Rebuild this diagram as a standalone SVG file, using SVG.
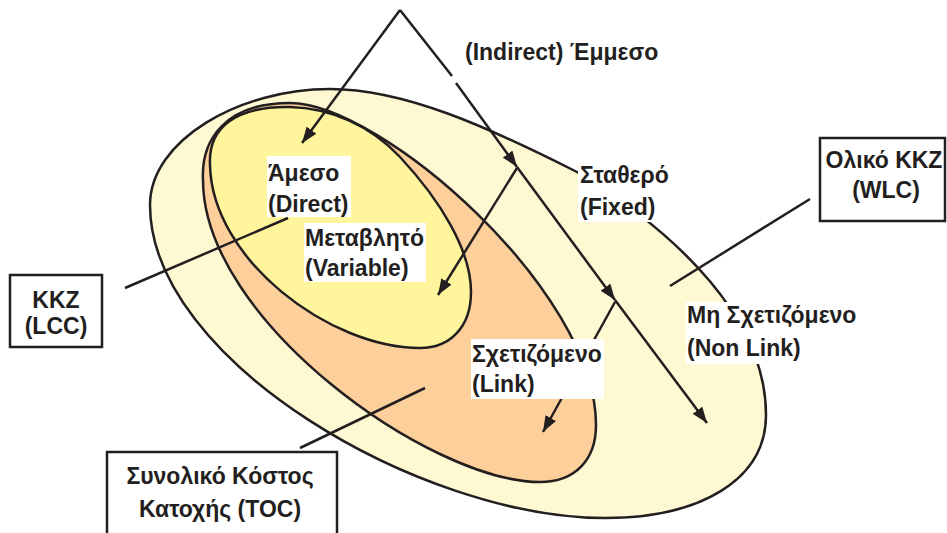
<svg xmlns="http://www.w3.org/2000/svg" width="947" height="533" viewBox="0 0 947 533">
<defs>
<style>
.shape{stroke:#231F20;stroke-width:2.5}
.ln{stroke:#231F20;stroke-width:2.5;fill:none}
.arr{stroke:#231F20;stroke-width:2.5;fill:none;marker-end:url(#ah)}
.bg{fill:#FFFFFF}
.box{fill:#FFFFFF;stroke:#231F20;stroke-width:2.5}
text{font-family:"Liberation Sans",Arial,sans-serif;font-weight:bold;font-size:23px;fill:#231F20}
.c{text-anchor:middle}
</style>
<marker id="ah" viewBox="0 0 16 12" refX="16" refY="6" markerWidth="16" markerHeight="12" markerUnits="userSpaceOnUse" orient="auto">
<path d="M0,0 L16,6 L0,12 z" fill="#231F20"/>
</marker>
</defs>
<rect width="947" height="533" fill="#FFFFFF"/>
<g id="outer">
<path class="shape" fill="#FFF9D3" d="M150,205 C150,140 240,89 330,89 C405,89 490,128 577,172 C680,235 766,320 766,415 C766,480 700,518 605,518 C420,518 150,360 150,205 Z"/>
</g>
<g id="link">
<path class="shape" fill="#FDD09B" d="M203,180 C201,140 225,103 290,103 C380,103 596,290 596,425 C596,460 575,482 540,482 C430,482 203,320 203,180 Z"/>
</g>
<g id="direct">
<path class="shape" fill="#FFF59C" d="M210,165 C208,128 235,106 290,107 C330,108 370,125 400,157 C440,200 471,250 471,292 C471,327 450,348 420,348 C330,348 212,260 210,165 Z"/>
</g>
<g id="connectors">
<line class="arr" x1="400" y1="10" x2="302" y2="143"/>
<line class="ln" x1="400" y1="10" x2="452" y2="76"/>
<line class="arr" x1="456" y1="83" x2="517" y2="167"/>
<line class="arr" x1="517" y1="167" x2="615" y2="300"/>
<line class="arr" x1="615" y1="300" x2="707" y2="423"/>
<line class="arr" x1="517" y1="168" x2="438" y2="295"/>
<line class="arr" x1="615" y1="302" x2="543" y2="432"/>
<line class="ln" x1="125" y1="288" x2="288" y2="218"/>
<line class="ln" x1="810" y1="199" x2="670" y2="286"/>
<line class="ln" x1="300" y1="448" x2="425" y2="388"/>
</g>
<g id="label-direct">
<rect class="bg" x="267" y="156" width="84" height="61"/>
<text x="268" y="181">Άμεσο</text>
<text x="268" y="212">(Direct)</text>
</g>
<g id="label-variable">
<rect class="bg" x="304" y="223" width="122" height="59"/>
<text x="305" y="246">Μεταβλητό</text>
<text x="305" y="276">(Variable)</text>
</g>
<g id="label-indirect">
<text x="465" y="60">(Indirect) Έμμεσο</text>
</g>
<g id="label-fixed">
<rect class="bg" x="578" y="160" width="92" height="62"/>
<text x="580" y="183">Σταθερό</text>
<text x="580" y="215">(Fixed)</text>
</g>
<g id="label-nonlink">
<rect class="bg" x="686" y="302" width="172" height="62"/>
<text x="687" y="323">Μη Σχετιζόμενο</text>
<text x="687" y="356">(Non Link)</text>
</g>
<g id="label-link">
<rect class="bg" x="471" y="339" width="133" height="60"/>
<text x="472" y="362">Σχετιζόμενο</text>
<text x="472" y="392">(Link)</text>
</g>
<g id="box-lcc">
<rect class="box" x="10" y="275" width="92" height="72"/>
<text class="c" x="56" y="308">KKZ</text>
<text class="c" x="56" y="334">(LCC)</text>
</g>
<g id="box-wlc">
<rect class="box" x="820" y="138" width="125" height="83"/>
<text class="c" x="884" y="168">Ολικό KKZ</text>
<text class="c" x="886" y="198">(WLC)</text>
</g>
<g id="box-toc">
<rect class="box" x="107" y="452" width="230" height="100"/>
<text class="c" x="220" y="484">Συνολικό Κόστος</text>
<text class="c" x="220" y="517">Κατοχής (TOC)</text>
</g>
</svg>
